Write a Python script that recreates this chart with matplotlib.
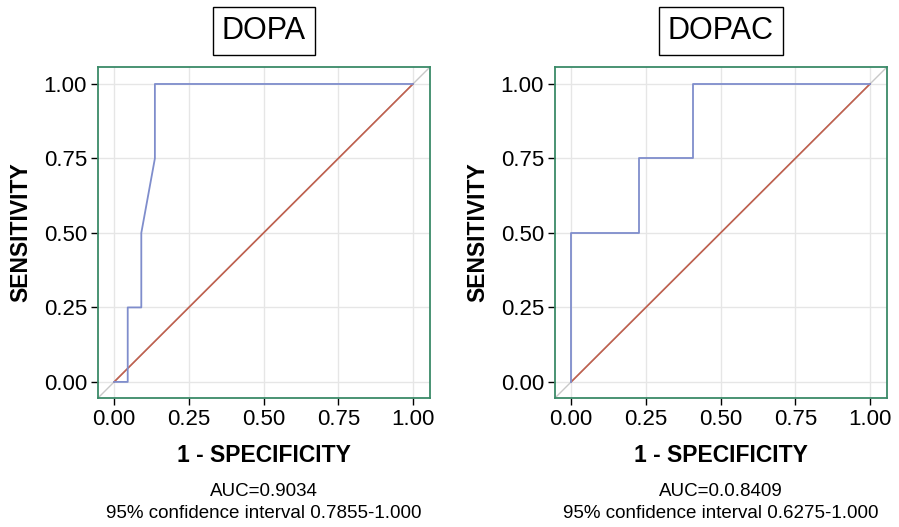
import matplotlib
matplotlib.use("Agg")
import matplotlib.pyplot as plt

plt.rcParams['font.family'] = ['Liberation Sans', 'DejaVu Sans']

# ROC data (1 - specificity, sensitivity)
dopa_fpr = [0.0, 1/22, 1/22, 2/22, 2/22, 3/22, 3/22, 1.0]
dopa_tpr = [0.0, 0.0, 0.25, 0.25, 0.50, 0.75, 1.00, 1.00]

dopac_fpr = [0.0, 0.0, 5/22, 5/22, 9/22, 9/22, 1.0]
dopac_tpr = [0.0, 0.50, 0.50, 0.75, 0.75, 1.00, 1.00]

titles = ["DOPA", "DOPAC"]
notes = ["AUC=0.9034\n95% confidence interval 0.7855-1.000",
         "AUC=0.0.8409\n95% confidence interval 0.6275-1.000"]
ticks = [0.0, 0.25, 0.5, 0.75, 1.0]
tick_labels = ["0.00", "0.25", "0.50", "0.75", "1.00"]

fig = plt.figure(figsize=(8.99, 5.27), dpi=100)
lefts = [98/899, 555/899]
w = 332/899
b = 1 - 398/527
h = 331/527
curves = [(dopa_fpr, dopa_tpr), (dopac_fpr, dopac_tpr)]

for i in range(2):
    ax = fig.add_axes([lefts[i], b, w, h])
    lo, hi = -0.054, 1.057
    ax.set_xlim(lo, hi)
    ax.set_ylim(lo, hi)
    ax.grid(True, color='#e6e6e6', linewidth=1.0)
    ax.set_axisbelow(True)
    ax.plot([lo, hi], [lo, hi], color='#c8c8c8', linewidth=1.0, zorder=2)
    ax.plot([0, 1], [0, 1], color='#c0604e', linewidth=1.2, zorder=3)
    ax.plot(curves[i][0], curves[i][1], color='#7f8dcc', linewidth=1.3, zorder=4)
    ax.set_xticks(ticks)
    ax.set_xticklabels(tick_labels)
    ax.set_yticks(ticks)
    ax.set_yticklabels(tick_labels)
    ax.tick_params(direction='out', length=5, width=1, labelsize=16, pad=3)
    for s in ax.spines.values():
        s.set_color('#3a8a68')
        s.set_linewidth(1.3)
    ax.set_xlabel("1 - SPECIFICITY", fontsize=16.5, fontweight='bold', labelpad=10)
    ax.set_ylabel("SENSITIVITY", fontsize=16.5, fontweight='bold', labelpad=8)
    fig.text(lefts[i] + w/2, 1 - 31/527, titles[i], fontsize=22, ha='center', va='center',
             bbox=dict(boxstyle='square,pad=0.3', facecolor='white',
                       edgecolor='black', linewidth=1.0))
    fig.text(lefts[i] + w/2, 1 - 483/527, notes[i], ha='center', va='top',
             fontsize=13.5, linespacing=1.35)

fig.savefig("out.png", dpi=100)
